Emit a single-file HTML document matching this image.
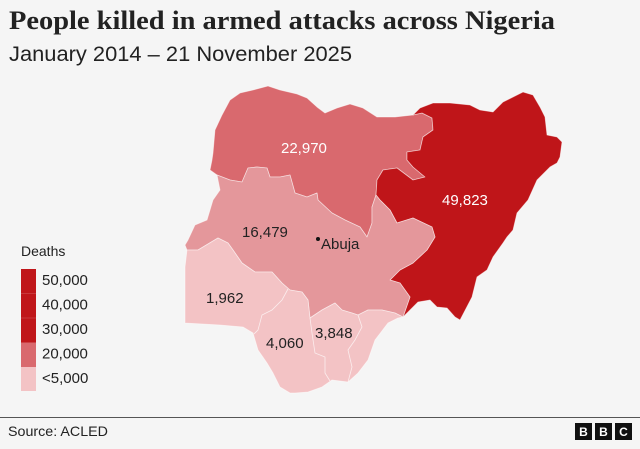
<!DOCTYPE html>
<html>
<head>
<meta charset="utf-8">
<style>
  html, body { margin: 0; padding: 0; background: #f5f5f5; }
  body { width: 640px; height: 449px; overflow: hidden; }
  svg { display: block; }
</style>
</head>
<body>
<svg width="640" height="449" viewBox="0 0 640 449" xmlns="http://www.w3.org/2000/svg">
  <rect x="0" y="0" width="640" height="449" fill="#f5f5f5"/>

  <!-- Title -->
  <text x="9" y="29" font-family="Liberation Serif, serif" font-weight="bold" font-size="26" fill="#222" textLength="546" lengthAdjust="spacingAndGlyphs">People killed in armed attacks across Nigeria</text>
  <text x="9" y="61" font-family="Liberation Sans, sans-serif" font-size="21.5" fill="#222" textLength="343" lengthAdjust="spacingAndGlyphs">January 2014 – 21 November 2025</text>

  <!-- Map -->
  <g stroke="#ffffff" stroke-opacity="0.55" stroke-width="0.8" stroke-linejoin="round">
    <!-- North West -->
    <path fill="#d9696e" d="M215,130 L222,115 L230,100 L240,93 L253,90 L268,86 L280,90 L297,94 L307,98 L317,107 L325,113 L337,108 L350,104 L363,108 L377,117 L395,117 L413,115 L422,113 L432,118 L433,130 L423,137 L420,150 L407,152 L407,160 L413,167 L425,177 L413,180 L397,168 L383,170 L377,180 L376,195 L372,207 L372,223 L367,237 L360,227 L345,220 L332,213 L318,200 L317,193 L307,197 L295,193 L290,175 L280,177 L270,177 L267,168 L257,167 L248,168 L242,182 L230,180 L217,175 L210,170 L212,160 L213,153 Z"/>
    <!-- North East -->
    <path fill="#bf1519" d="M413,115 L420,108 L433,103 L450,103 L470,105 L480,110 L493,112 L503,102 L517,95 L523,92 L533,95 L540,107 L545,117 L547,135 L557,137 L562,142 L560,157 L557,163 L550,167 L537,180 L528,200 L517,213 L513,230 L507,237 L503,243 L493,257 L487,270 L477,277 L472,297 L460,320 L455,317 L447,308 L437,307 L430,300 L418,302 L410,310 L403,317 L410,297 L400,283 L390,280 L400,270 L413,263 L427,250 L435,237 L432,227 L413,218 L397,223 L390,210 L380,200 L376,195 L377,180 L383,170 L397,168 L413,180 L425,177 L413,167 L407,160 L407,152 L420,150 L423,137 L433,130 L432,118 L422,113 Z"/>
    <!-- North Central -->
    <path fill="#e4979b" d="M217,175 L230,180 L242,182 L248,168 L257,167 L267,168 L270,177 L280,177 L290,175 L295,193 L307,197 L317,193 L318,200 L332,213 L345,220 L360,227 L367,237 L372,223 L372,207 L376,195 L380,200 L390,210 L397,223 L413,218 L432,227 L435,237 L427,250 L413,263 L400,270 L390,280 L400,283 L410,297 L403,317 L395,313 L382,310 L368,310 L358,315 L352,313 L342,310 L335,303 L322,310 L310,318 L308,300 L302,292 L290,290 L282,283 L272,272 L255,272 L242,263 L233,250 L228,243 L218,238 L198,250 L187,250 L185,245 L188,240 L195,225 L207,220 L213,200 L220,190 Z"/>
    <!-- South -->
    <path fill="#f3c3c5" d="M187,250 L198,250 L218,238 L228,243 L233,250 L242,263 L255,272 L272,272 L282,283 L290,290 L302,292 L308,300 L310,318 L322,310 L335,303 L342,310 L352,313 L358,315 L368,310 L382,310 L395,313 L403,317 L398,318 L388,323 L375,340 L368,360 L358,373 L348,382 L332,380 L322,387 L308,392 L295,393 L290,393 L280,387 L273,373 L267,363 L258,350 L253,333 L243,327 L220,325 L185,323 L185,267 Z"/>
  </g>
  <!-- inner south borders -->
  <g fill="none" stroke="#ffffff" stroke-opacity="0.7" stroke-width="0.8">
    <path d="M288,289 L282,300 L272,310 L262,315 L258,330 L254,334"/>
    <path d="M310,318 L312,333 L315,353 L325,357 L325,373 L330,381"/>
    <path d="M358,315 L362,327 L355,340 L348,350 L352,367 L348,382"/>
  </g>

  <!-- Map labels -->
  <g font-family="Liberation Sans, sans-serif" font-size="15">
    <text x="281" y="153" fill="#ffffff">22,970</text>
    <text x="442" y="205" fill="#ffffff">49,823</text>
    <text x="242" y="237" fill="#222">16,479</text>
    <text x="206" y="303" fill="#222">1,962</text>
    <text x="266" y="348" fill="#222">4,060</text>
    <text x="315" y="338" fill="#222">3,848</text>
    <text x="321" y="249" fill="#222">Abuja</text>
  </g>
  <circle cx="318" cy="239" r="2" fill="#111"/>

  <!-- Legend -->
  <text x="21" y="256" font-family="Liberation Sans, sans-serif" font-size="14" fill="#222">Deaths</text>
  <rect x="21" y="269" width="15" height="24.5" fill="#c0161a"/>
  <rect x="21" y="293.5" width="15" height="24.5" fill="#c0161a"/>
  <rect x="21" y="318" width="15" height="24.5" fill="#c0161a"/>
  <rect x="21" y="342.5" width="15" height="24.5" fill="#d9696e"/>
  <rect x="21" y="367" width="15" height="24" fill="#f3c3c5"/>
  <line x1="21" y1="293.5" x2="36" y2="293.5" stroke="#ffffff" stroke-opacity="0.15" stroke-width="1"/>
  <line x1="21" y1="318" x2="36" y2="318" stroke="#ffffff" stroke-opacity="0.15" stroke-width="1"/>
  <g font-family="Liberation Sans, sans-serif" font-size="15" fill="#222">
    <text x="42" y="285">50,000</text>
    <text x="42" y="309.5">40,000</text>
    <text x="42" y="334">30,000</text>
    <text x="42" y="358.5">20,000</text>
    <text x="42" y="383">&lt;5,000</text>
  </g>

  <!-- Footer -->
  <line x1="0" y1="417.5" x2="640" y2="417.5" stroke="#555" stroke-width="1"/>
  <text x="8" y="436" font-family="Liberation Sans, sans-serif" font-size="14" fill="#222" textLength="100" lengthAdjust="spacingAndGlyphs">Source:  ACLED</text>
  <g>
    <rect x="575" y="423" width="17" height="17" fill="#111"/>
    <rect x="595" y="423" width="17" height="17" fill="#111"/>
    <rect x="615" y="423" width="17" height="17" fill="#111"/>
    <g font-family="Liberation Sans, sans-serif" font-weight="bold" font-size="12" fill="#fff" text-anchor="middle">
      <text x="583.5" y="436">B</text>
      <text x="603.5" y="436">B</text>
      <text x="623.5" y="436">C</text>
    </g>
  </g>
</svg>
</body>
</html>
